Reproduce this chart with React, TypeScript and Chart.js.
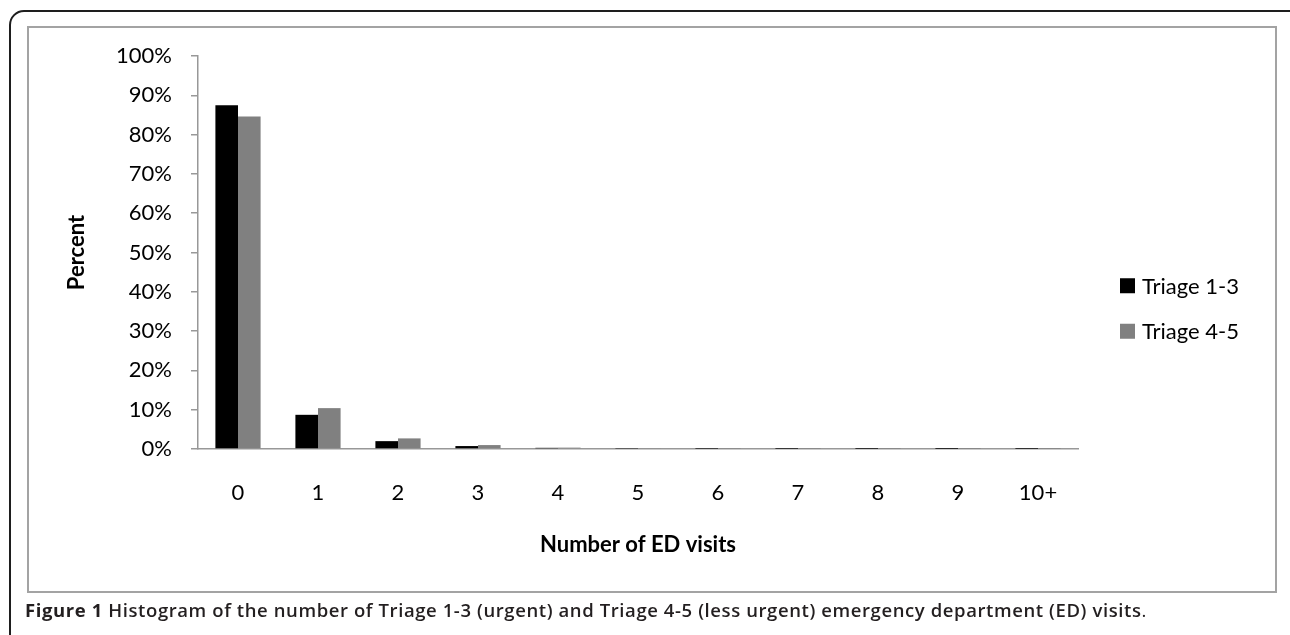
import React, { useEffect, useLayoutEffect, useRef } from "react";
import { Chart, registerables } from "chart.js";

Chart.register(...registerables);

const categories = ["0", "1", "2", "3", "4", "5", "6", "7", "8", "9", "10+"];
const triage13 = [87.5, 8.7, 2.0, 0.75, 0.3, 0.1, 0.05, 0.03, 0.02, 0.01, 0.02];
const triage45 = [84.6, 10.4, 2.7, 1.0, 0.35, 0.15, 0.07, 0.04, 0.03, 0.02, 0.03];
const seriesLabels = ["Triage 1-3", "Triage 4-5"];
const seriesColors = ["#000000", "#808080"];
const yMin = 0;
const yMax = 100;
const yStep = 10;
const xTitle = "Number of ED visits";
const yTitle = "Percent";
const captionLead = "Figure 1";
const captionText =
  " Histogram of the number of Triage 1-3 (urgent) and Triage 4-5 (less urgent) emergency department (ED) visits";

const FONT = "Lato, 'Open Sans', sans-serif";
const AXIS_GRAY = "#989898";
const CAPTION_WIDTH = 1122;

const legendPlugin = {
  id: "sideLegend",
  afterDraw(chart: any) {
    const ctx = chart.ctx;
    const ds = chart.data.datasets;
    ctx.save();
    const x = chart.chartArea.right + 42;
    const mid = chart.height / 2 - 9;
    const gap = 45.5;
    ds.forEach((d: any, i: number) => {
      const cy = mid + (i - (ds.length - 1) / 2) * gap;
      ctx.fillStyle = d.backgroundColor;
      ctx.fillRect(x, cy - 7.5, 15, 15);
      ctx.fillStyle = "#000000";
      ctx.font = `22px ${FONT}`;
      ctx.textBaseline = "alphabetic";
      ctx.textAlign = "left";
      ctx.fillText(d.label, x + 22, cy + 7.8);
    });
    ctx.restore();
  },
};

export default function App() {
  const ref = useRef<HTMLCanvasElement | null>(null);
  const capRef = useRef<HTMLDivElement | null>(null);

  useLayoutEffect(() => {
    const el = capRef.current;
    if (!el) return;
    el.style.letterSpacing = "0px";
    const w = el.getBoundingClientRect().width;
    const n = (captionLead + captionText + ".").length;
    const ls = (CAPTION_WIDTH - w) / n;
    el.style.letterSpacing = `${ls}px`;
  }, []);

  useEffect(() => {
    if (!ref.current) return;
    const chart = new Chart(ref.current, {
      type: "bar",
      data: {
        labels: categories,
        datasets: [
          {
            label: seriesLabels[0],
            data: triage13,
            backgroundColor: seriesColors[0],
            borderWidth: 0,
            categoryPercentage: 0.565,
            barPercentage: 1.0,
          },
          {
            label: seriesLabels[1],
            data: triage45,
            backgroundColor: seriesColors[1],
            borderWidth: 0,
            categoryPercentage: 0.565,
            barPercentage: 1.0,
          },
        ],
      },
      options: {
        animation: false,
        responsive: false,
        maintainAspectRatio: false,
        devicePixelRatio: 1,
        layout: { padding: { left: 0, right: 212, top: 56, bottom: 77 } },
        plugins: {
          legend: { display: false },
          tooltip: { enabled: false },
        },
        scales: {
          x: {
            offset: true,
            grid: { display: false, drawTicks: false, tickLength: 0 },
            border: { display: true, color: AXIS_GRAY, width: 1.5 },
            ticks: {
              color: "#000000",
              font: { family: FONT, size: 22 },
              padding: 31,
              maxRotation: 0,
            },
            title: {
              display: true,
              text: xTitle,
              color: "#000000",
              font: { family: FONT, size: 22, weight: "bold" },
              padding: { top: 0, bottom: 0 },
            },
            afterFit(scale: any) {
              scale.height = 109;
            },
          },
          y: {
            min: yMin,
            max: yMax,
            grid: {
              display: true,
              drawOnChartArea: false,
              drawTicks: true,
              tickLength: 7,
              color: AXIS_GRAY,
              lineWidth: 1.5,
            },
            border: { display: true, color: AXIS_GRAY, width: 1.5 },
            ticks: {
              stepSize: yStep,
              color: "#000000",
              font: { family: FONT, size: 22 },
              padding: 19,
              callback: (v: any) => `${v}%`,
            },
            title: {
              display: true,
              text: yTitle,
              color: "#000000",
              font: { family: FONT, size: 22, weight: "bold" },
              padding: { top: 64, bottom: 0 },
            },
            afterFit(scale: any) {
              scale.width = 198;
            },
          },
        },
      },
      plugins: [legendPlugin],
    });
    return () => chart.destroy();
  }, []);

  return (
    <div
      style={{
        position: "absolute",
        left: 0,
        top: 0,
        width: 1290,
        height: 635,
        overflow: "hidden",
        background: "#ffffff",
      }}
    >
      <div
        style={{
          position: "absolute",
          left: 9,
          top: 10,
          width: 1320,
          height: 700,
          border: "2px solid #1e1e1e",
          borderRadius: 15,
          boxSizing: "border-box",
        }}
      />
      <div
        style={{
          position: "absolute",
          left: 27,
          top: 26,
          width: 1250,
          height: 567,
          border: "2px solid #a3a3a3",
          boxSizing: "border-box",
        }}
      />
      <canvas
        ref={ref}
        width={1290}
        height={635}
        style={{ position: "absolute", left: 0, top: 0, width: 1290, height: 635 }}
      />
      <div
        ref={capRef}
        style={{
          position: "absolute",
          left: 25,
          top: 599,
          fontFamily: "'Open Sans', 'Noto Sans', sans-serif",
          fontSize: 18.5,
          color: "#231f20",
          whiteSpace: "nowrap",
          lineHeight: "22px",
        }}
      >
        <span style={{ fontWeight: 700 }}>{captionLead}</span>
        <span style={{ fontWeight: 600 }}>{captionText}</span>
        <span style={{ fontWeight: 400 }}>.</span>
      </div>
    </div>
  );
}
